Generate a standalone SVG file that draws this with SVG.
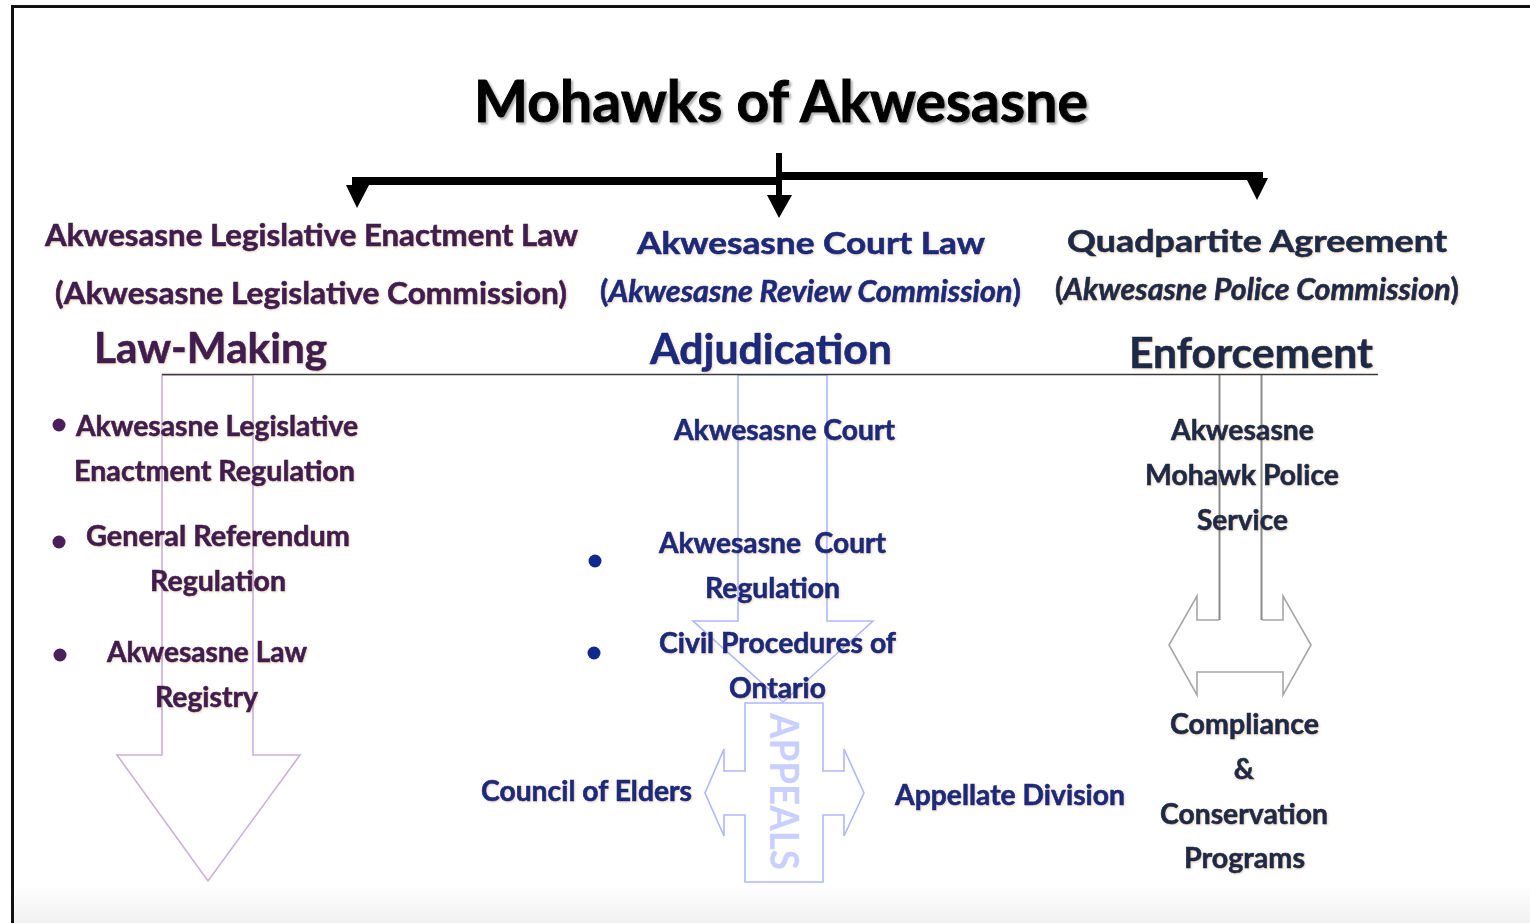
<svg xmlns="http://www.w3.org/2000/svg" width="1530" height="923" viewBox="0 0 1530 923">
  <defs>
    <linearGradient id="bottomFade" x1="0" y1="0" x2="0" y2="1">
      <stop offset="0" stop-color="#ffffff"/>
      <stop offset="1" stop-color="#f1f1f1"/>
    </linearGradient>
    <filter id="shTitle" x="-5%" y="-20%" width="110%" height="150%">
      <feDropShadow dx="2" dy="2" stdDeviation="1" flood-color="#777777" flood-opacity="0.6"/>
    </filter>
    <filter id="sh" x="-5%" y="-20%" width="110%" height="150%">
      <feDropShadow dx="1" dy="1" stdDeviation="0.8" flood-color="#b08040" flood-opacity="0.35"/>
    </filter>
  </defs>
  <style>
    text { font-family: Lato, "Open Sans", "Liberation Sans", sans-serif; font-weight: 700; stroke-width: 0.6px; }
    .title { font-size: 58px; fill: #000000; stroke: #000000; stroke-width: 1px; filter: url(#shTitle); }
    .h { font-size: 30px; }
    .big { font-size: 42px; }
    .b { font-size: 28px; }
    .it { font-style: italic; }
    .up { font-style: normal; }
    .p { fill: #3f1d4f; stroke: #3f1d4f; filter: url(#sh); }
    .n { fill: #1a2a7c; stroke: #1a2a7c; filter: url(#sh); }
    .d { fill: #1b2a47; stroke: #1b2a47; filter: url(#sh); }
    .pre { white-space: pre; }
    .appeals { font-size: 40px; fill: #c9d0ff; stroke: none; }
    .bk { fill: #000000; }
    .barrow { fill: none; stroke-width: 1.6; stroke-linejoin: miter; }
  </style>

  <!-- frame -->
  <rect x="0" y="0" width="1530" height="923" fill="#ffffff"/>
  <rect x="14" y="885" width="1516" height="38" fill="url(#bottomFade)"/>
  <line x1="12" y1="6.5" x2="1530" y2="6.5" stroke="#111111" stroke-width="3"/>
  <line x1="12.5" y1="5" x2="12.5" y2="923" stroke="#111111" stroke-width="3"/>

  <!-- connectors -->
  <g id="connectors">
    <line x1="779" y1="153" x2="779" y2="200" stroke="#000" stroke-width="6"/>
    <rect class="bk" x="352" y="177" width="428" height="8"/>
    <rect class="bk" x="778" y="172" width="485" height="8"/>
    <polygon class="bk" points="346,185 369,185 357,208"/>
    <polygon class="bk" points="767,195 792,195 779,218"/>
    <polygon class="bk" points="1246,178 1268,178 1257,200"/>

    <polygon class="barrow" stroke="#cdaedc" points="162,375 162,755 117,755 208,881 300,755 253,755 253,375"/>
    <polygon class="barrow" stroke="#aeb8ff" points="738,375 738,621 693,621 783,702 873,621 827,621 827,375"/>
    <polygon class="barrow" stroke="#aeb8ff" fill="#ffffff" points="745,703 823,703 823,771 844,771 844,749 864,793 844,836 844,815 823,815 823,882 745,882 745,815 724,815 724,836 705,793 724,749 724,771 745,771"/>
    <path class="barrow" stroke="#a6a6a6" d="M1219,620 H1197 V596 L1169,645 L1197,695 V672 H1283 V695 L1311,645 L1283,596 V620 H1262"/>
    <line x1="1219.5" y1="375" x2="1219.5" y2="620" stroke="#8a8a8a" stroke-width="2"/>
    <line x1="1261.5" y1="375" x2="1261.5" y2="620" stroke="#8a8a8a" stroke-width="2"/>

    <line x1="162" y1="374.5" x2="1378" y2="374.5" stroke="#3a3a3a" stroke-width="1.6"/>
  </g>

  <g id="title">
    <text class="title" x="474" y="122" textLength="614" lengthAdjust="spacingAndGlyphs">Mohawks of Akwesasne</text>
  </g>

  <!-- Law-making column -->
  <g id="legislative-enactment-law">
    <text class="h p" x="45" y="246" textLength="533" lengthAdjust="spacingAndGlyphs">Akwesasne Legislative Enactment Law</text>
    <text class="h p" x="55" y="304" textLength="512" lengthAdjust="spacingAndGlyphs">(Akwesasne Legislative Commission)</text>
  </g>
  <g id="law-making">
    <text class="big p" x="94" y="363" textLength="233" lengthAdjust="spacingAndGlyphs">Law-Making</text>
  </g>
  <g id="lm-item-1">
    <circle cx="59" cy="425" r="6.5" fill="#4b1f5c"/>
    <text class="b p" x="76" y="436" textLength="282" lengthAdjust="spacingAndGlyphs">Akwesasne Legislative</text>
    <text class="b p" x="74" y="481" textLength="281" lengthAdjust="spacingAndGlyphs">Enactment Regulation</text>
  </g>
  <g id="lm-item-2">
    <circle cx="59" cy="542" r="6.5" fill="#4b1f5c"/>
    <text class="b p" x="86" y="546" textLength="264" lengthAdjust="spacingAndGlyphs">General Referendum</text>
    <text class="b p" x="150" y="591" textLength="136" lengthAdjust="spacingAndGlyphs">Regulation</text>
  </g>
  <g id="lm-item-3">
    <circle cx="60" cy="655" r="6.5" fill="#4b1f5c"/>
    <text class="b p" x="107" y="662" textLength="200" lengthAdjust="spacingAndGlyphs">Akwesasne Law</text>
    <text class="b p" x="155" y="707" textLength="103" lengthAdjust="spacingAndGlyphs">Registry</text>
  </g>

  <!-- Adjudication column -->
  <g id="court-law">
    <text class="h n" x="637" y="254" textLength="348" lengthAdjust="spacingAndGlyphs">Akwesasne Court Law</text>
    <text class="h n" x="600" y="302" textLength="421" lengthAdjust="spacingAndGlyphs"><tspan class="up">(</tspan><tspan class="it">Akwesasne Review Commission</tspan><tspan class="up">)</tspan></text>
  </g>
  <g id="adjudication">
    <text class="big n" x="650" y="364" textLength="242" lengthAdjust="spacingAndGlyphs">Adjudication</text>
  </g>
  <g id="akwesasne-court">
    <text class="b n" x="674" y="440" textLength="221" lengthAdjust="spacingAndGlyphs">Akwesasne Court</text>
  </g>
  <g id="adj-item-1">
    <circle cx="595" cy="561" r="6.5" fill="#0f2a8c"/>
    <text class="b n pre" x="659" y="553" textLength="227" lengthAdjust="spacingAndGlyphs">Akwesasne  Court</text>
    <text class="b n" x="705" y="598" textLength="135" lengthAdjust="spacingAndGlyphs">Regulation</text>
  </g>
  <g id="adj-item-2">
    <circle cx="594" cy="653" r="6.5" fill="#0f2a8c"/>
    <text class="b n" x="659" y="653" textLength="237" lengthAdjust="spacingAndGlyphs">Civil Procedures of</text>
    <text class="b n" x="729" y="698" textLength="97" lengthAdjust="spacingAndGlyphs">Ontario</text>
  </g>
  <g id="appeals">
    <text class="appeals" transform="translate(784,791.5) rotate(90)" x="0" y="14" text-anchor="middle" textLength="157" lengthAdjust="spacingAndGlyphs">APPEALS</text>
  </g>
  <g id="council-of-elders">
    <text class="b n" x="481" y="801" textLength="211" lengthAdjust="spacingAndGlyphs">Council of Elders</text>
  </g>
  <g id="appellate-division">
    <text class="b n" x="895" y="805" textLength="230" lengthAdjust="spacingAndGlyphs">Appellate Division</text>
  </g>

  <!-- Enforcement column -->
  <g id="quadpartite-agreement">
    <text class="h d" x="1067" y="252" textLength="380" lengthAdjust="spacingAndGlyphs">Quadpartite Agreement</text>
    <text class="h d" x="1055" y="300" textLength="404" lengthAdjust="spacingAndGlyphs"><tspan class="up">(</tspan><tspan class="it">Akwesasne Police Commission</tspan><tspan class="up">)</tspan></text>
  </g>
  <g id="enforcement">
    <text class="big d" x="1129" y="368" textLength="244" lengthAdjust="spacingAndGlyphs">Enforcement</text>
  </g>
  <g id="police-service">
    <text class="b d" x="1171" y="440" textLength="143" lengthAdjust="spacingAndGlyphs">Akwesasne</text>
    <text class="b d" x="1145" y="485" textLength="194" lengthAdjust="spacingAndGlyphs">Mohawk Police</text>
    <text class="b d" x="1197" y="530" textLength="91" lengthAdjust="spacingAndGlyphs">Service</text>
  </g>
  <g id="compliance-programs">
    <text class="b d" x="1170" y="734" textLength="149" lengthAdjust="spacingAndGlyphs">Compliance</text>
    <text class="b d" x="1244" y="779" text-anchor="middle">&amp;</text>
    <text class="b d" x="1160" y="824" textLength="168" lengthAdjust="spacingAndGlyphs">Conservation</text>
    <text class="b d" x="1184" y="868" textLength="121" lengthAdjust="spacingAndGlyphs">Programs</text>
  </g>
</svg>
